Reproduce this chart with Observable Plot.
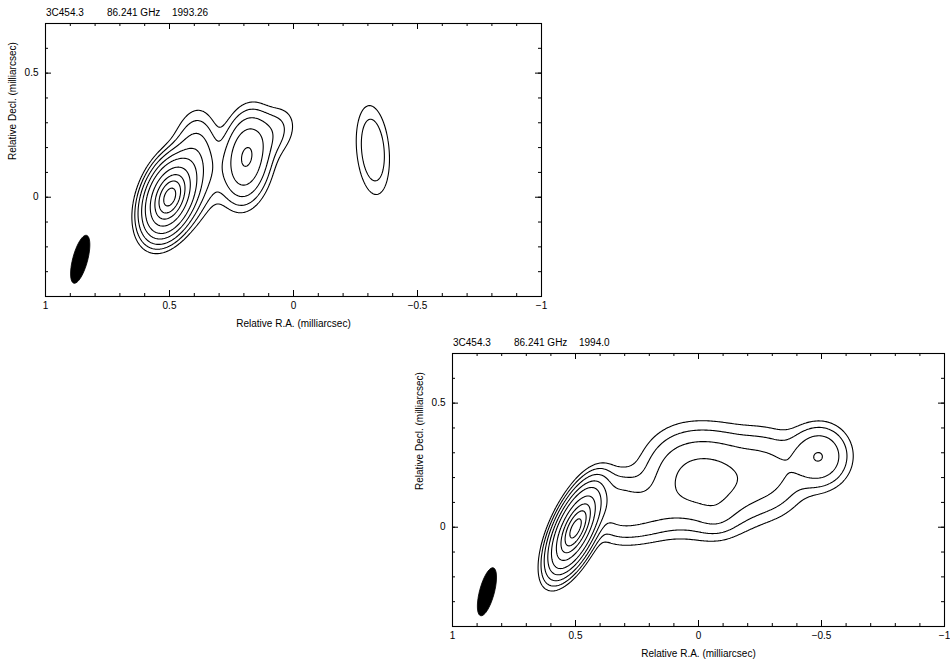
<!DOCTYPE html>
<html><head><meta charset="utf-8">
<script src="https://cdn.jsdelivr.net/npm/d3@7"></script>
<script src="https://cdn.jsdelivr.net/npm/@observablehq/plot@0.6"></script>
<style>
body{margin:0;background:#fff;}
#page{position:relative;width:950px;height:660px;overflow:hidden;font-family:"Liberation Sans",Arial,sans-serif;color:#000;}
.panel{position:absolute;width:620px;}
.title{position:relative;height:18px;}
.title span{position:absolute;top:7px;font-size:10px;line-height:12px;white-space:nowrap;}
.panel svg{display:block;max-width:none !important;}
</style></head>
<body><div id="page"></div>
<script>
// ---- shared axis data ----
const levels = [0.01, 0.02, 0.04, 0.08, 0.15, 0.3, 0.5, 0.7, 0.9];
const xTicksMajor = [1, 0.5, 0, -0.5, -1];
const xTickLabels = ["1", "0.5", "0", "\u22120.5", "\u22121"];
const xTicksMinor = [-1, -0.9, -0.8, -0.7, -0.6, -0.5, -0.4, -0.3, -0.2, -0.1, 0, 0.1, 0.2, 0.3, 0.4, 0.5, 0.6, 0.7, 0.8, 0.9, 1];
const yTicksMajor = [0, 0.5];
const yTickLabels = ["0", "0.5"];
const yTicksMinor = [-0.4, -0.3, -0.2, -0.1, 0, 0.1, 0.2, 0.3, 0.4, 0.5, 0.6, 0.7];
const xDomain = [1, -1];
const yDomain = [-0.4, 0.7];
const xTitle = "Relative R.A. (milliarcsec)";
const yTitle = "Relative Decl. (milliarcsec)";

// ---- epoch 1993.26 : Gaussian components (mas) ----
const e1Title = ["3C454.3", "86.241 GHz", "1993.26"];
const e1X    = [0.50, 0.40, 0.31, 0.19, 0.08, -0.32];
const e1Y    = [0.00, 0.13, 0.09, 0.16, 0.26, 0.19];
const e1Flux = [1.00, 0.075, 0.01, 0.16, 0.025, 0.038];
const e1Maj  = [0.078, 0.11, 0.08, 0.095, 0.07, 0.11];
const e1Min  = [0.045, 0.05, 0.04, 0.05, 0.05, 0.04];
const e1PA   = [-20, -5, 0, -8, -30, 5];

// ---- epoch 1994.0 ----
const e2Title = ["3C454.3", "86.241 GHz", "1994.0"];
const e2X    = [0.50, 0.34, 0.21, 0.05, -0.09, -0.07, -0.28, -0.49];
const e2Y    = [-0.005, 0.09, 0.06, 0.19, 0.19, 0.05, 0.22, 0.285];
const e2Flux = [1.00, 0.045, 0.035, 0.069, 0.069, 0.015, 0.045, 0.08];
const e2Maj  = [0.09, 0.08, 0.09, 0.10, 0.10, 0.05, 0.09, 0.07];
const e2Min  = [0.036, 0.07, 0.07, 0.11, 0.11, 0.05, 0.10, 0.068];
const e2PA   = [-25, 0, -70, -75, -75, 0, -75, -15];

// ---- restoring beam (FWHM, mas) ----
const beamX = [0.86, 0.86];
const beamY = [-0.25, -0.26];
const beamMaj = [0.2, 0.2];
const beamMin = [0.06, 0.06];
const beamPA = [-15, -15];

function model(X, Y, F, A, B, P) {
  const comps = X.map((x, i) => ({x, y: Y[i], f: F[i], a: A[i], b: B[i],
    s: Math.sin(P[i] * Math.PI / 180), c: Math.cos(P[i] * Math.PI / 180)}));
  return (x, y) => {
    let v = 0;
    for (const k of comps) {
      const dx = x - k.x, dy = y - k.y;
      const u = (dx * k.s + dy * k.c) / k.a, w = (dx * k.c - dy * k.s) / k.b;
      v += k.f * Math.exp(-0.5 * (u * u + w * w));
    }
    return v;
  };
}
function beam(i) {
  const s = Math.sin(beamPA[i] * Math.PI / 180), c = Math.cos(beamPA[i] * Math.PI / 180);
  return (x, y) => {
    const dx = x - beamX[i], dy = y - beamY[i];
    const u = (dx * s + dy * c) / beamMaj[i], w = (dx * c - dy * s) / beamMin[i];
    return Math.exp(-4 * Math.LN2 * (u * u + w * w));
  };
}

function panel({left, top, frameW, titleParts, value, beamIndex}) {
  const frameH = 273, mL = 45, mR = 22, mT = 5, mB = 37;
  const div = document.createElement("div");
  div.className = "panel";
  div.style.left = left + "px";
  div.style.top = top + "px";
  const t = document.createElement("div");
  t.className = "title";
  const offs = [1, 62, 127];
  titleParts.forEach((s, i) => {
    const sp = document.createElement("span");
    sp.textContent = s;
    sp.style.left = (mL + offs[i]) + "px";
    t.appendChild(sp);
  });
  div.appendChild(t);
  const svg = Plot.plot({
    width: mL + frameW + mR, height: mT + frameH + mB,
    marginLeft: mL, marginRight: mR, marginTop: mT, marginBottom: mB,
    style: {fontFamily: '"Liberation Sans", Arial, sans-serif', fontSize: "10px", background: "white", maxWidth: "none"},
    x: {domain: xDomain, axis: null},
    y: {domain: yDomain, axis: null},
    marks: [
      Plot.contour({value, x1: -1, x2: 1, y1: -0.4, y2: 0.7, thresholds: levels,
        pixelSize: 1, stroke: "black", fill: "none", strokeWidth: 1.1}),
      Plot.contour({value: beam(beamIndex), x1: -1, x2: 1, y1: -0.4, y2: 0.7, thresholds: [0.5],
        pixelSize: 1, stroke: "black", fill: "black", strokeWidth: 0.8}),
      Plot.frame({stroke: "black", strokeWidth: 1.1}),
      Plot.tickX(xTicksMinor, {x: d => d, insetTop: frameH - 3, stroke: "black"}),
      Plot.tickX(xTicksMinor, {x: d => d, insetBottom: frameH - 3, stroke: "black"}),
      Plot.tickX(xTicksMajor, {x: d => d, insetTop: frameH - 6, stroke: "black"}),
      Plot.tickX(xTicksMajor, {x: d => d, insetBottom: frameH - 6, stroke: "black"}),
      Plot.tickY(yTicksMinor, {y: d => d, insetRight: frameW - 3, stroke: "black"}),
      Plot.tickY(yTicksMinor, {y: d => d, insetLeft: frameW - 3, stroke: "black"}),
      Plot.tickY(yTicksMajor, {y: d => d, insetRight: frameW - 6, stroke: "black"}),
      Plot.tickY(yTicksMajor, {y: d => d, insetLeft: frameW - 6, stroke: "black"}),
      Plot.text(xTicksMajor, {x: d => d, text: (d, i) => xTickLabels[i], frameAnchor: "bottom",
        lineAnchor: "middle", dy: 9, fill: "black"}),
      Plot.text(yTicksMajor, {y: d => d, text: (d, i) => yTickLabels[i], frameAnchor: "left",
        textAnchor: "end", lineAnchor: "middle", dx: -7, fill: "black"}),
      Plot.text([xTitle], {text: d => d, frameAnchor: "bottom", lineAnchor: "middle", dy: 27, fill: "black"}),
      Plot.text([yTitle], {text: d => d, frameAnchor: "left", lineAnchor: "middle", rotate: -90, dx: -33, fill: "black"})
    ]
  });
  div.appendChild(svg);
  document.getElementById("page").appendChild(div);
}

panel({left: 0, top: 0, frameW: 496, titleParts: e1Title,
  value: model(e1X, e1Y, e1Flux, e1Maj, e1Min, e1PA), beamIndex: 0});
panel({left: 407, top: 330, frameW: 492, titleParts: e2Title,
  value: model(e2X, e2Y, e2Flux, e2Maj, e2Min, e2PA), beamIndex: 1});
</script>
</body></html>
